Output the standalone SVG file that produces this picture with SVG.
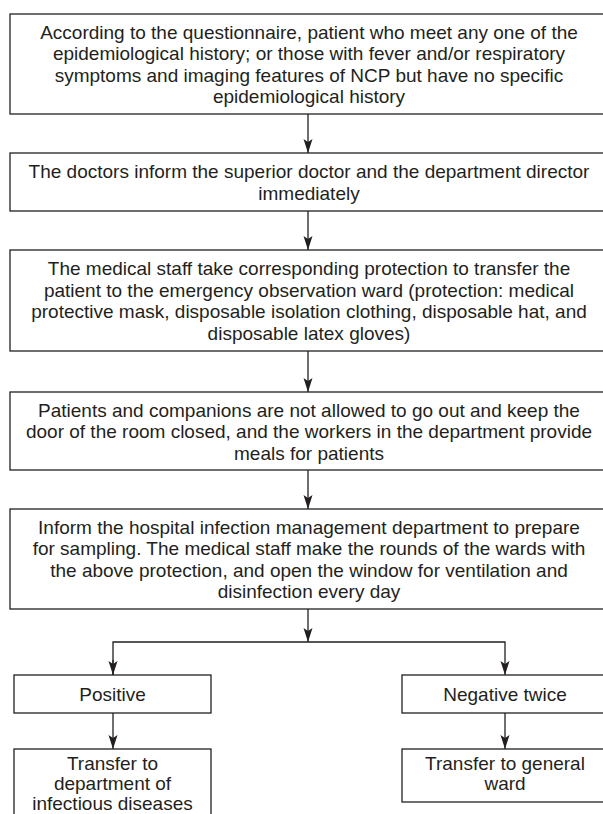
<svg xmlns="http://www.w3.org/2000/svg" width="603" height="814" viewBox="0 0 603 814">
<style>
.box{fill:#fff;stroke:#231f20;stroke-width:1.3}
.t{font-family:"Liberation Sans",Arial,sans-serif;font-size:19px;fill:#231f20;text-anchor:middle}
.c{fill:none;stroke:#231f20;stroke-width:1.3}
</style>
<defs>
<marker id="ah" markerWidth="15" markerHeight="10" refX="14" refY="5" orient="auto" markerUnits="userSpaceOnUse" viewBox="0 0 15 10">
<path d="M0,0.5 L14,5 L0,9.5 L3,5 Z" fill="#231f20"/>
</marker>
</defs>
<rect width="603" height="814" fill="#fff"/>
<g id="connectors">
<line class="c" x1="308" y1="114" x2="308" y2="153" marker-end="url(#ah)"/>
<line class="c" x1="308" y1="211" x2="308" y2="250" marker-end="url(#ah)"/>
<line class="c" x1="308" y1="351" x2="308" y2="392" marker-end="url(#ah)"/>
<line class="c" x1="308" y1="470" x2="308" y2="509" marker-end="url(#ah)"/>
<line class="c" x1="308" y1="609" x2="308" y2="642" marker-end="url(#ah)"/>
<polyline class="c" points="113,675 113,642 505,642 505,675" marker-end="url(#ah)"/>
<line class="c" x1="113" y1="660" x2="113" y2="675" marker-end="url(#ah)"/>
<line class="c" x1="113" y1="713" x2="113" y2="749" marker-end="url(#ah)"/>
<line class="c" x1="505" y1="713" x2="505" y2="749" marker-end="url(#ah)"/>
</g>
<g id="n1">
<rect class="box" x="10" y="14" width="600" height="100"/>
<text class="t" x="309" y="38.5">According to the questionnaire, patient who meet any one of the</text>
<text class="t" x="309" y="60">epidemiological history; or those with fever and/or respiratory</text>
<text class="t" x="309" y="81.5">symptoms and imaging features of NCP but have no specific</text>
<text class="t" x="309" y="103">epidemiological history</text>
</g>
<g id="n2">
<rect class="box" x="10" y="153" width="600" height="58"/>
<text class="t" x="309" y="178">The doctors inform the superior doctor and the department director</text>
<text class="t" x="309" y="199.5">immediately</text>
</g>
<g id="n3">
<rect class="box" x="10" y="250" width="600" height="101"/>
<text class="t" x="309" y="275">The medical staff take corresponding protection to transfer the</text>
<text class="t" x="309" y="296.5">patient to the emergency observation ward (protection: medical</text>
<text class="t" x="309" y="318">protective mask, disposable isolation clothing, disposable hat, and</text>
<text class="t" x="309" y="339.5">disposable latex gloves)</text>
</g>
<g id="n4">
<rect class="box" x="10" y="392" width="600" height="78"/>
<text class="t" x="309" y="416.5">Patients and companions are not allowed to go out and keep the</text>
<text class="t" x="309" y="438">door of the room closed, and the  workers in the department provide</text>
<text class="t" x="309" y="459.5">meals for patients</text>
</g>
<g id="n5">
<rect class="box" x="10" y="509" width="600" height="100"/>
<text class="t" x="309" y="533.5">Inform the hospital infection management department to prepare</text>
<text class="t" x="309" y="555">for sampling. The medical staff make the rounds of the wards with</text>
<text class="t" x="309" y="576.5">the above protection, and open the window for ventilation and</text>
<text class="t" x="309" y="598">disinfection every day</text>
</g>
<g id="n6">
<rect class="box" x="14" y="675" width="197" height="38"/>
<text class="t" x="112.5" y="700.5">Positive</text>
</g>
<g id="n7">
<rect class="box" x="402" y="675" width="210" height="38"/>
<text class="t" x="505" y="700.5">Negative twice</text>
</g>
<g id="n8">
<rect class="box" x="14" y="749" width="197" height="80"/>
<text class="t" x="112.5" y="770">Transfer to</text>
<text class="t" x="112.5" y="790">department of</text>
<text class="t" x="112.5" y="810">infectious diseases</text>
</g>
<g id="n9">
<rect class="box" x="402" y="749" width="210" height="53"/>
<text class="t" x="505" y="770">Transfer to general</text>
<text class="t" x="505" y="790">ward</text>
</g>
</svg>
